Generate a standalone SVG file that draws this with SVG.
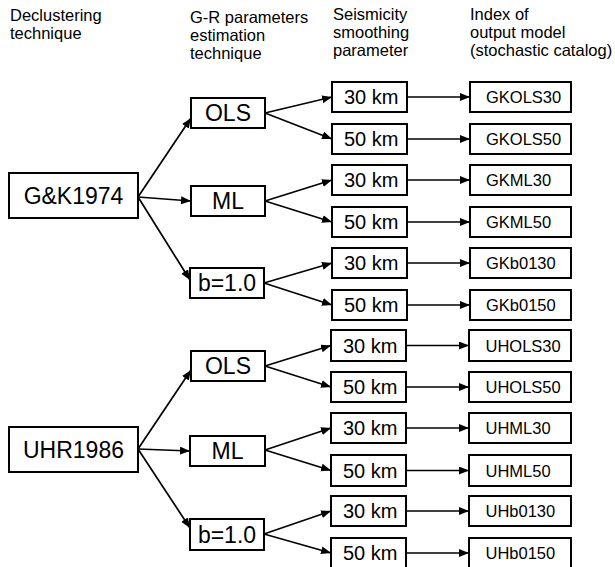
<svg xmlns="http://www.w3.org/2000/svg" width="615" height="567" viewBox="0 0 615 567">
<defs>
<style>
.hdr{font-family:"Liberation Sans",Arial,sans-serif;font-size:16.5px;fill:#000}
.box{fill:#fff;stroke:#000;stroke-width:2}
.t1{font-family:"Liberation Sans",Arial,sans-serif;font-size:23px;fill:#000;text-anchor:middle}
.t3{font-family:"Liberation Sans",Arial,sans-serif;font-size:20px;fill:#000}
.t4{font-family:"Liberation Sans",Arial,sans-serif;font-size:16.5px;fill:#000}
.c{stroke:#000;stroke-width:1.7;fill:none;marker-end:url(#ah)}
</style>
<marker id="ah" markerUnits="userSpaceOnUse" markerWidth="11" markerHeight="9" refX="10" refY="4" orient="auto">
<path d="M0,0 L10,4 L0,8 z" fill="#000"/>
</marker>
</defs>
<rect width="615" height="567" fill="#fff"/>
<g id="headers">
<text class="hdr" x="10" y="20.5">Declustering</text>
<text class="hdr" x="10" y="38.5">technique</text>
<text class="hdr" x="190" y="22.5">G-R parameters</text>
<text class="hdr" x="190" y="40.5">estimation</text>
<text class="hdr" x="190" y="58.5">technique</text>
<text class="hdr" x="333" y="19.5">Seismicity</text>
<text class="hdr" x="333" y="37.5">smoothing</text>
<text class="hdr" x="333" y="55.5">parameter</text>
<text class="hdr" x="470" y="20">Index of</text>
<text class="hdr" x="470" y="38">output model</text>
<text class="hdr" x="470" y="56">(stochastic catalog)</text>
</g>
<g id="connectors">
<line class="c" x1="138" y1="197" x2="191" y2="118"/>
<line class="c" x1="138" y1="197" x2="191" y2="201"/>
<line class="c" x1="138" y1="197" x2="190" y2="280"/>
<line class="c" x1="265" y1="113" x2="332" y2="97"/>
<line class="c" x1="265" y1="113" x2="332" y2="139"/>
<line class="c" x1="265" y1="201" x2="332" y2="180"/>
<line class="c" x1="265" y1="201" x2="332" y2="222"/>
<line class="c" x1="264" y1="283" x2="332" y2="263"/>
<line class="c" x1="264" y1="283" x2="332" y2="305"/>
<line class="c" x1="407" y1="97" x2="470" y2="97"/>
<line class="c" x1="407" y1="139" x2="470" y2="139"/>
<line class="c" x1="407" y1="180" x2="470" y2="180"/>
<line class="c" x1="407" y1="222" x2="470" y2="222"/>
<line class="c" x1="407" y1="263" x2="470" y2="263"/>
<line class="c" x1="407" y1="305" x2="470" y2="305"/>
<line class="c" x1="138" y1="449" x2="191" y2="370"/>
<line class="c" x1="138" y1="449" x2="190" y2="451"/>
<line class="c" x1="138" y1="449" x2="190" y2="528"/>
<line class="c" x1="265" y1="366" x2="331" y2="345.5"/>
<line class="c" x1="265" y1="366" x2="331" y2="387"/>
<line class="c" x1="265" y1="450" x2="331" y2="428"/>
<line class="c" x1="265" y1="450" x2="331" y2="470.5"/>
<line class="c" x1="264" y1="534" x2="331" y2="511"/>
<line class="c" x1="264" y1="534" x2="331" y2="553"/>
<line class="c" x1="406" y1="345.5" x2="469" y2="345.5"/>
<line class="c" x1="406" y1="387" x2="469" y2="387"/>
<line class="c" x1="406" y1="428" x2="469" y2="428"/>
<line class="c" x1="406" y1="470.5" x2="469" y2="470.5"/>
<line class="c" x1="406" y1="511" x2="469" y2="511"/>
<line class="c" x1="406" y1="553" x2="469" y2="553"/>
</g>
<g id="n-gk1974"><rect class="box" x="9" y="173" width="129" height="45"/><text class="t1" x="73.5" y="203.5">G&amp;K1974</text></g>
<g id="n-gk-ols"><rect class="box" x="191" y="98" width="74" height="30"/><text class="t1" x="228" y="121.2">OLS</text></g>
<g id="n-gk-ml"><rect class="box" x="191" y="186" width="74" height="30"/><text class="t1" x="228" y="209.2">ML</text></g>
<g id="n-gk-b"><rect class="box" x="190" y="268" width="74" height="30"/><text class="t1" x="227" y="291.2">b=1.0</text></g>
<g id="n-gk-ols-30"><rect class="box" x="332" y="82" width="75" height="30"/><text class="t3" x="344" y="104.2">30 km</text></g>
<g id="n-gk-ols-50"><rect class="box" x="332" y="124" width="75" height="30"/><text class="t3" x="344" y="146.2">50 km</text></g>
<g id="n-gk-ml-30"><rect class="box" x="332" y="165" width="75" height="30"/><text class="t3" x="344" y="187.2">30 km</text></g>
<g id="n-gk-ml-50"><rect class="box" x="332" y="207" width="75" height="30"/><text class="t3" x="344" y="229.2">50 km</text></g>
<g id="n-gk-b-30"><rect class="box" x="332" y="248" width="75" height="30"/><text class="t3" x="344" y="270.2">30 km</text></g>
<g id="n-gk-b-50"><rect class="box" x="332" y="290" width="75" height="30"/><text class="t3" x="344" y="312.2">50 km</text></g>
<g id="o-GKOLS30"><rect class="box" x="470" y="82" width="101" height="30"/><text class="t4" x="486" y="103">GKOLS30</text></g>
<g id="o-GKOLS50"><rect class="box" x="470" y="124" width="101" height="30"/><text class="t4" x="486" y="145">GKOLS50</text></g>
<g id="o-GKML30"><rect class="box" x="470" y="165" width="101" height="30"/><text class="t4" x="486" y="186">GKML30</text></g>
<g id="o-GKML50"><rect class="box" x="470" y="207" width="101" height="30"/><text class="t4" x="486" y="228">GKML50</text></g>
<g id="o-GKb0130"><rect class="box" x="470" y="248" width="101" height="30"/><text class="t4" x="486" y="269">GKb0130</text></g>
<g id="o-GKb0150"><rect class="box" x="470" y="290" width="101" height="30"/><text class="t4" x="486" y="311">GKb0150</text></g>
<g id="n-uhr1986"><rect class="box" x="9" y="427" width="129" height="45"/><text class="t1" x="73.5" y="457.5">UHR1986</text></g>
<g id="n-uh-ols"><rect class="box" x="191" y="351" width="74" height="30"/><text class="t1" x="228" y="374.2">OLS</text></g>
<g id="n-uh-ml"><rect class="box" x="190" y="436" width="75" height="30"/><text class="t1" x="227.5" y="459.2">ML</text></g>
<g id="n-uh-b"><rect class="box" x="190" y="519" width="74" height="31"/><text class="t1" x="227" y="542.7">b=1.0</text></g>
<g id="n-uh-ols-30"><rect class="box" x="331" y="330" width="75" height="31"/><text class="t3" x="343" y="352.7">30 km</text></g>
<g id="n-uh-ols-50"><rect class="box" x="331" y="372" width="75" height="30"/><text class="t3" x="343" y="394.2">50 km</text></g>
<g id="n-uh-ml-30"><rect class="box" x="331" y="413" width="75" height="30"/><text class="t3" x="343" y="435.2">30 km</text></g>
<g id="n-uh-ml-50"><rect class="box" x="331" y="455" width="75" height="31"/><text class="t3" x="343" y="477.7">50 km</text></g>
<g id="n-uh-b-30"><rect class="box" x="331" y="496" width="75" height="30"/><text class="t3" x="343" y="518.2">30 km</text></g>
<g id="n-uh-b-50"><rect class="box" x="331" y="538" width="75" height="31"/><text class="t3" x="343" y="560.2">50 km</text></g>
<g id="o-UHOLS30"><rect class="box" x="469" y="330" width="102" height="31"/><text class="t4" x="485.5" y="351.5">UHOLS30</text></g>
<g id="o-UHOLS50"><rect class="box" x="469" y="372" width="102" height="30"/><text class="t4" x="485.5" y="393">UHOLS50</text></g>
<g id="o-UHML30"><rect class="box" x="469" y="413" width="102" height="30"/><text class="t4" x="485.5" y="434">UHML30</text></g>
<g id="o-UHML50"><rect class="box" x="469" y="455" width="102" height="31"/><text class="t4" x="485.5" y="476.5">UHML50</text></g>
<g id="o-UHb0130"><rect class="box" x="469" y="496" width="102" height="30"/><text class="t4" x="485.5" y="517">UHb0130</text></g>
<g id="o-UHb0150"><rect class="box" x="469" y="538" width="102" height="31"/><text class="t4" x="485.5" y="559">UHb0150</text></g>
</svg>
